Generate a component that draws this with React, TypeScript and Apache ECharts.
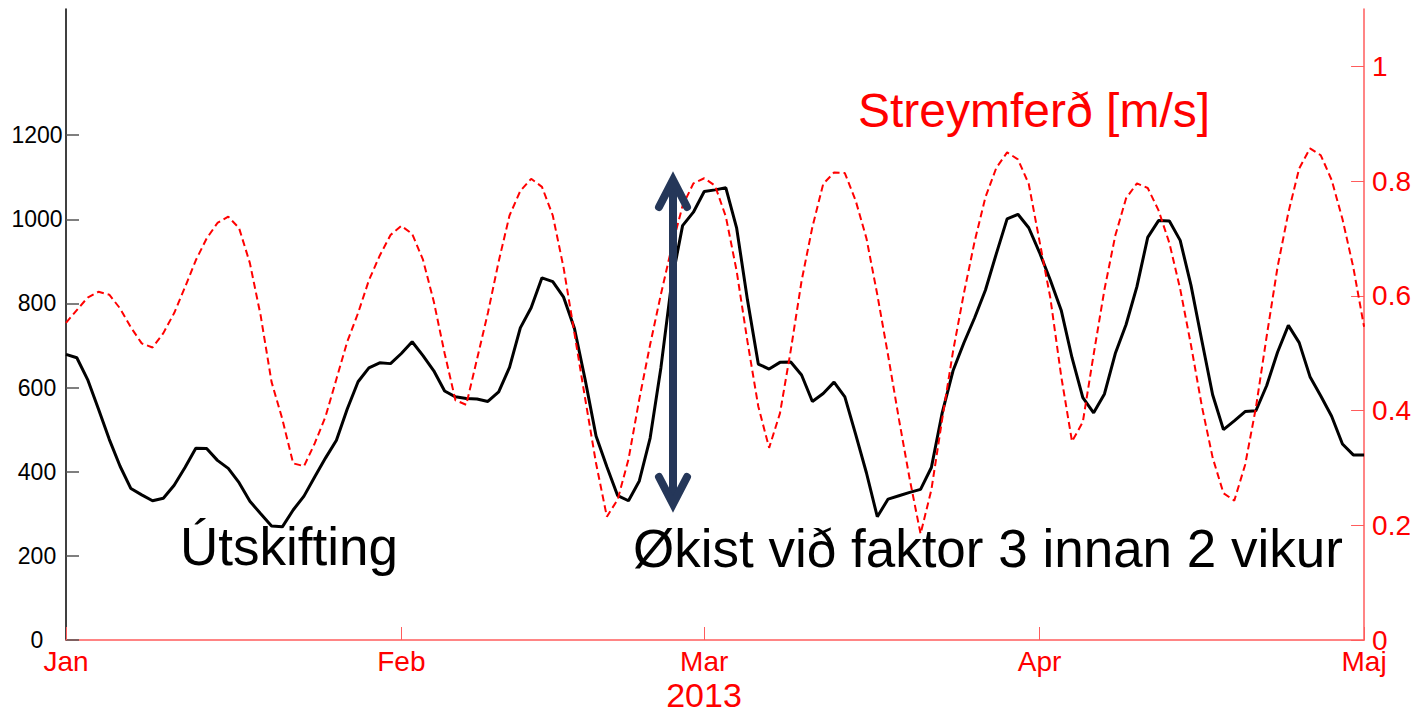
import React, { useEffect, useRef } from "react";
import * as echarts from "echarts";

// Daily values, 1 Jan 2013 .. 1 May 2013 (121 days)
const startDate = "2013-01-01";
const monthStarts = ["2013-01-01", "2013-02-01", "2013-03-01", "2013-04-01", "2013-05-01"];
const monthNames = ["Jan", "Feb", "Mar", "Apr", "Maj"];
const yearLabel = "2013";

const utskifting = [
  679, 671, 619, 549, 477, 413, 360, 345, 331, 337,
  368, 410, 456, 455, 427, 408, 374, 330, 300, 271,
  269, 309, 342, 388, 433, 475, 549, 614, 647, 659,
  657, 681, 709, 676, 640, 592, 578, 574, 573, 567,
  590, 648, 742, 790, 861, 852, 815, 741, 618, 485,
  412, 343, 331, 378, 480, 648, 852, 985, 1017, 1066,
  1070, 1075, 979, 808, 656, 644, 660, 661, 630, 567,
  586, 613, 578, 489, 397, 293, 335, 343, 351, 358,
  410, 540, 640, 706, 766, 832, 918, 1001, 1012, 980,
  921, 855, 784, 671, 576, 540, 585, 681, 750, 840,
  957, 997, 996, 950, 843, 712, 583, 500, 521, 543,
  545, 605, 684, 748, 707, 626, 580, 532, 466, 440,
  440,
];

const streymferd = [
  0.553, 0.575, 0.597, 0.607, 0.602, 0.578, 0.545, 0.517, 0.510, 0.535,
  0.570, 0.615, 0.662, 0.700, 0.727, 0.738, 0.718, 0.657, 0.565, 0.450,
  0.385, 0.308, 0.303, 0.343, 0.390, 0.455, 0.520, 0.570, 0.627, 0.670,
  0.706, 0.722, 0.708, 0.663, 0.590, 0.500, 0.418, 0.410, 0.490, 0.570,
  0.660, 0.740, 0.783, 0.804, 0.790, 0.740, 0.649, 0.535, 0.420, 0.308,
  0.215, 0.245, 0.315, 0.420, 0.515, 0.603, 0.685, 0.757, 0.796, 0.805,
  0.792, 0.738, 0.643, 0.520, 0.407, 0.335, 0.395, 0.505, 0.626, 0.720,
  0.795, 0.815, 0.814, 0.766, 0.700, 0.602, 0.496, 0.385, 0.280, 0.185,
  0.262, 0.385, 0.503, 0.604, 0.695, 0.772, 0.823, 0.850, 0.838, 0.795,
  0.695, 0.596, 0.460, 0.346, 0.380, 0.498, 0.611, 0.705, 0.770, 0.796,
  0.788, 0.749, 0.692, 0.612, 0.514, 0.408, 0.318, 0.256, 0.243, 0.305,
  0.405, 0.530, 0.650, 0.745, 0.822, 0.857, 0.845, 0.802, 0.734, 0.650,
  0.546,
];

const leftTicks = [0, 200, 400, 600, 800, 1000, 1200];
const rightTicks = [0, 0.2, 0.4, 0.6, 0.8, 1];

const annotationLeft = "Útskifting";
const annotationRight = "Økist við faktor 3 innan 2 vikur";
const rightAxisTitle = "Streymferð [m/s]";

const SANS = "'Liberation Sans', Arial, sans-serif";
const RED = "#ff0000";
const RED_AXIS = "#ff5c5c";
const NAVY = "#253759";

const DAY_MS = 86400000;
function parseDay(s: string) {
  const [y, m, d] = s.split("-").map(Number);
  return Date.UTC(y, m - 1, d);
}
function dayIndex(s: string) {
  return Math.round((parseDay(s) - parseDay(startDate)) / DAY_MS);
}

export default function App() {
  const ref = useRef<HTMLDivElement>(null);
  useEffect(() => {
    if (!ref.current) return;
    const chart = echarts.init(ref.current, undefined, { renderer: "svg" });
    const monthDays = monthStarts.map(dayIndex);
    const blackData = utskifting.map((v, i) => [i, v]);
    const redData = streymferd.map((v, i) => [i, v]);

    chart.setOption({
      animation: false,
      backgroundColor: "#ffffff",
      grid: { left: 66, right: 44, top: 9, bottom: 74, containLabel: false },
      xAxis: {
        type: "value",
        min: monthDays[0],
        max: monthDays[monthDays.length - 1],
        axisLine: { show: true, lineStyle: { color: RED_AXIS, width: 1.5 } },
        axisTick: {
          show: true,
          inside: true,
          length: 13,
          customValues: monthDays,
          lineStyle: { color: RED_AXIS, width: 1 },
        },
        axisLabel: {
          customValues: monthDays,
          formatter: (v: number) => {
            const idx = monthDays.indexOf(Math.round(v));
            return idx >= 0 ? monthNames[idx] : "";
          },
          color: RED,
          fontSize: 28,
          fontFamily: SANS,
          margin: 7,
        },
        splitLine: { show: false },
      },
      yAxis: [
        {
          type: "value",
          position: "left",
          min: 0,
          max: 1500,
          axisLine: { show: true, lineStyle: { color: "#000", width: 1.5 } },
          axisTick: {
            show: true,
            inside: true,
            length: 13,
            customValues: leftTicks,
            lineStyle: { color: "#555", width: 1.5 },
          },
          axisLabel: {
            customValues: leftTicks,
            formatter: (v: number) => String(v),
            color: "#000",
            fontSize: 23,
            fontFamily: SANS,
            align: "center",
            margin: 29,
          },
          splitLine: { show: false },
        },
        {
          type: "value",
          position: "right",
          min: 0,
          max: 1.1,
          axisLine: { show: true, lineStyle: { color: RED_AXIS, width: 1.5 } },
          axisTick: {
            show: true,
            inside: true,
            length: 13,
            customValues: rightTicks,
            lineStyle: { color: RED_AXIS, width: 1 },
          },
          axisLabel: {
            customValues: rightTicks,
            formatter: (v: number) => String(v),
            color: RED,
            fontSize: 28,
            fontFamily: SANS,
            margin: 8,
          },
          splitLine: { show: false },
        },
      ],
      series: [
        {
          name: "Útskifting",
          type: "line",
          yAxisIndex: 0,
          data: blackData,
          showSymbol: false,
          lineStyle: { color: "#000", width: 3 },
          itemStyle: { color: "#000" },
          z: 2,
        },
        {
          name: "Streymferð",
          type: "line",
          yAxisIndex: 1,
          data: redData,
          showSymbol: false,
          lineStyle: { color: RED, width: 2, type: [7, 4] },
          itemStyle: { color: RED },
          z: 3,
        },
      ],
      graphic: [
        {
          type: "text",
          x: 180,
          y: 546,
          style: { text: annotationLeft, fill: "#000", font: `53px ${SANS}`, align: "left", verticalAlign: "middle" },
          z: 10,
        },
        {
          type: "text",
          x: 633,
          y: 548,
          style: { text: annotationRight, fill: "#000", font: `53px ${SANS}`, align: "left", verticalAlign: "middle" },
          z: 10,
        },
        {
          type: "text",
          x: 858,
          y: 110,
          style: { text: rightAxisTitle, fill: RED, font: `48px ${SANS}`, align: "left", verticalAlign: "middle" },
          z: 10,
        },
        {
          type: "text",
          x: 704,
          y: 695,
          style: { text: yearLabel, fill: RED, font: `34px ${SANS}`, align: "center", verticalAlign: "middle" },
          z: 10,
        },
        {
          type: "line",
          shape: { x1: 673, y1: 182, x2: 673, y2: 502 },
          style: { stroke: NAVY, lineWidth: 8 },
          z: 20,
        },
        {
          type: "polyline",
          shape: { points: [[659, 207], [673, 180], [687, 207]] },
          style: { stroke: NAVY, lineWidth: 8, lineCap: "round", lineJoin: "miter", fill: null },
          z: 20,
        },
        {
          type: "polyline",
          shape: { points: [[659, 477], [673, 504], [687, 477]] },
          style: { stroke: NAVY, lineWidth: 8, lineCap: "round", lineJoin: "miter", fill: null },
          z: 20,
        },
      ],
    });
    return () => chart.dispose();
  }, []);

  return (
    <div
      ref={ref}
      style={{ position: "absolute", left: 0, top: 0, width: 1414, height: 714, background: "#fff" }}
    />
  );
}
